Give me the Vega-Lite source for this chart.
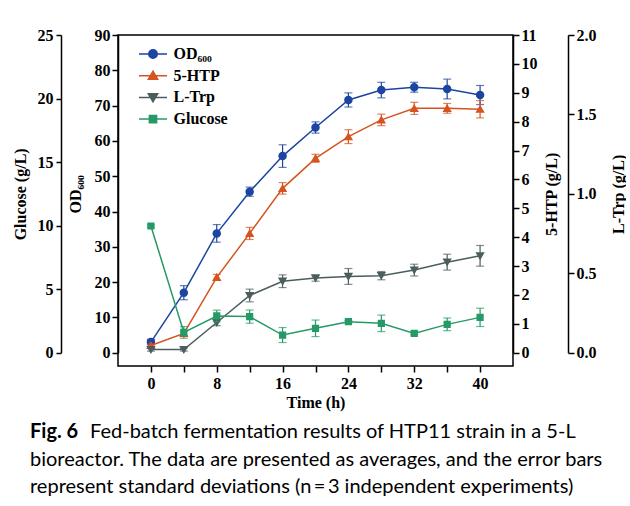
{
  "$schema": "https://vega.github.io/schema/vega-lite/v6.json",
  "width": 395,
  "height": 331,
  "padding": {"top": 27, "left": 12, "right": 0, "bottom": 0},
  "background": "white",
  "config": {
    "font": "Liberation Serif",
    "view": {"stroke": "black", "strokeWidth": 1.5},
    "axis": {
      "grid": false,
      "labelFont": "Liberation Serif",
      "labelFontWeight": "bold",
      "labelFontSize": 16,
      "labelColor": "black",
      "titleFont": "Liberation Serif",
      "titleFontWeight": "bold",
      "titleFontSize": 16,
      "titleColor": "black",
      "tickColor": "black",
      "tickWidth": 1.5,
      "tickSize": 6,
      "domainColor": "black",
      "domainWidth": 1.5,
      "labelPadding": 2
    },
    "legend": {
      "orient": "none",
      "legendX": 27,
      "legendY": 11,
      "title": null,
      "padding": 0,
      "symbolSize": 72,
      "rowPadding": 5.7,
      "labelOffset": 12.5,
      "labelFont": "Liberation Serif",
      "labelFontWeight": "bold",
      "labelFontSize": 16,
      "labelColor": "black"
    }
  },
  "title": {
    "text": "Fig. 6",
    "subtitle": [
      "\u200b\u2003\u2003\u2003\u2003Fed-batch fermentation results of HTP11 strain in a 5-L",
      "bioreactor. The data are presented as averages, and the error bars",
      "represent standard deviations (n\u2009=\u20093 independent experiments)"
    ],
    "orient": "bottom",
    "anchor": "start",
    "frame": "group",
    "dx": -88,
    "offset": 12,
    "font": "Lato",
    "fontSize": 20,
    "fontWeight": "bold",
    "color": "black",
    "subtitleFont": "Lato",
    "subtitleFontSize": 20,
    "subtitleFontWeight": "normal",
    "subtitleColor": "black",
    "subtitleLineHeight": 27.5,
    "subtitlePadding": -20
  },
  "data": {
    "values": [
      {"series": "OD600", "time": 0, "value": 3.0, "err": 0.8},
      {"series": "OD600", "time": 4, "value": 17.0, "err": 2.0},
      {"series": "OD600", "time": 8, "value": 33.8, "err": 2.5},
      {"series": "OD600", "time": 12, "value": 45.6, "err": 1.3},
      {"series": "OD600", "time": 16, "value": 55.7, "err": 3.2},
      {"series": "OD600", "time": 20, "value": 63.8, "err": 1.6},
      {"series": "OD600", "time": 24, "value": 71.6, "err": 2.0},
      {"series": "OD600", "time": 28, "value": 74.4, "err": 2.2},
      {"series": "OD600", "time": 32, "value": 75.2, "err": 1.4},
      {"series": "OD600", "time": 36, "value": 74.7, "err": 2.8},
      {"series": "OD600", "time": 40, "value": 73.0, "err": 2.7},
      {"series": "5-HTP", "time": 0, "value": 0.25, "err": 0.05},
      {"series": "5-HTP", "time": 4, "value": 0.67, "err": 0.08},
      {"series": "5-HTP", "time": 8, "value": 2.61, "err": 0.1},
      {"series": "5-HTP", "time": 12, "value": 4.13, "err": 0.21},
      {"series": "5-HTP", "time": 16, "value": 5.69, "err": 0.2},
      {"series": "5-HTP", "time": 20, "value": 6.73, "err": 0.14},
      {"series": "5-HTP", "time": 24, "value": 7.48, "err": 0.24},
      {"series": "5-HTP", "time": 28, "value": 8.06, "err": 0.2},
      {"series": "5-HTP", "time": 32, "value": 8.46, "err": 0.21},
      {"series": "5-HTP", "time": 36, "value": 8.46, "err": 0.17},
      {"series": "5-HTP", "time": 40, "value": 8.43, "err": 0.3},
      {"series": "L-Trp", "time": 0, "value": 0.02, "err": 0.01},
      {"series": "L-Trp", "time": 4, "value": 0.02, "err": 0.01},
      {"series": "L-Trp", "time": 8, "value": 0.19, "err": 0.02},
      {"series": "L-Trp", "time": 12, "value": 0.36, "err": 0.04},
      {"series": "L-Trp", "time": 16, "value": 0.45, "err": 0.04},
      {"series": "L-Trp", "time": 20, "value": 0.47, "err": 0.02},
      {"series": "L-Trp", "time": 24, "value": 0.48, "err": 0.05},
      {"series": "L-Trp", "time": 28, "value": 0.485, "err": 0.026},
      {"series": "L-Trp", "time": 32, "value": 0.52, "err": 0.037},
      {"series": "L-Trp", "time": 36, "value": 0.57, "err": 0.05},
      {"series": "L-Trp", "time": 40, "value": 0.61, "err": 0.065},
      {"series": "Glucose", "time": 0, "value": 9.97, "err": 0.1},
      {"series": "Glucose", "time": 4, "value": 1.6, "err": 0.46},
      {"series": "Glucose", "time": 8, "value": 2.89, "err": 0.46},
      {"series": "Glucose", "time": 12, "value": 2.84, "err": 0.52},
      {"series": "Glucose", "time": 16, "value": 1.39, "err": 0.59},
      {"series": "Glucose", "time": 20, "value": 1.92, "err": 0.65},
      {"series": "Glucose", "time": 24, "value": 2.44, "err": 0.1},
      {"series": "Glucose", "time": 28, "value": 2.31, "err": 0.65},
      {"series": "Glucose", "time": 32, "value": 1.52, "err": 0.1},
      {"series": "Glucose", "time": 36, "value": 2.23, "err": 0.5},
      {"series": "Glucose", "time": 40, "value": 2.78, "err": 0.72}
    ]
  },
  "encoding": {
    "x": {
      "field": "time",
      "type": "quantitative",
      "scale": {"domain": [-4, 44], "nice": false, "zero": false},
      "axis": {
        "title": "Time (h)",
        "values": [0, 4, 8, 12, 16, 20, 24, 28, 32, 36, 40],
        "labelExpr": "datum.value % 8 === 0 ? datum.label : ''",
        "domain": false,
        "labelPadding": 3,
        "titlePadding": 3
      }
    },
    "color": {
      "field": "series",
      "type": "nominal",
      "scale": {"domain": ["OD600", "5-HTP", "L-Trp", "Glucose"], "range": ["#1b45a0", "#d6531f", "#4b5d5d", "#259a66"]},
      "legend": {
        "labelExpr": "datum.label === 'OD600' ? 'OD\u2086\u2080\u2080' : datum.label",
        "encode": {"symbols": {"update": {"fill": {"scale": "color", "field": "value"}, "stroke": {"scale": "color", "field": "value"}, "strokeWidth": {"value": 1.5}, "opacity": {"value": 1}}}}
      }
    }
  },
  "layer": [
    {
      "transform": [{"filter": "datum.series === 'OD600'"}],
      "encoding": {
        "y": {
          "field": "value",
          "type": "quantitative",
          "scale": {"domain": [0, 90], "range": [317.7, 0], "nice": false, "zero": false},
          "axis": {"orient": "left", "title": "OD\u2086\u2080\u2080", "values": [0, 10, 20, 30, 40, 50, 60, 70, 80, 90], "titlePadding": 11}
        }
      },
      "layer": [
        {"mark": {"type": "line", "strokeWidth": 1.5}},
        {"mark": {"type": "errorbar", "ticks": {"size": 8}, "thickness": 1.2}, "encoding": {"yError": {"field": "err"}}},
        {
          "mark": {"type": "point", "filled": true, "opacity": 1, "strokeWidth": 0, "size": 72},
          "encoding": {
            "shape": {
              "field": "series",
              "type": "nominal",
              "scale": {
                "domain": ["OD600", "5-HTP", "L-Trp", "Glucose"],
                "range": [
                  "M1,0A1,1,0,1,1,-1,0A1,1,0,1,1,1,0Z M-3.3,0H3.3",
                  "M0,-1.05L1.1,0.85L-1.1,0.85Z M-3.3,0H3.3",
                  "M0,1.05L-1.1,-0.85L1.1,-0.85Z M-3.3,0H3.3",
                  "M-0.85,-0.85H0.85V0.85H-0.85Z M-3.3,0H3.3"
                ]
              }
            }
          }
        }
      ]
    },
    {
      "transform": [{"filter": "datum.series === '5-HTP'"}],
      "encoding": {
        "y": {
          "field": "value",
          "type": "quantitative",
          "scale": {"domain": [0, 11], "range": [317.7, 0], "nice": false, "zero": false},
          "axis": {"orient": "right", "title": "5-HTP (g/L)", "values": [0, 1, 2, 3, 4, 5, 6, 7, 8, 9, 10, 11], "titleAngle": 270, "titlePadding": 22}
        }
      },
      "layer": [
        {"mark": {"type": "line", "strokeWidth": 1.5}},
        {"mark": {"type": "errorbar", "ticks": {"size": 8}, "thickness": 1.2}, "encoding": {"yError": {"field": "err"}}},
        {"mark": {"type": "point", "filled": true, "opacity": 1, "strokeWidth": 0, "size": 72}, "encoding": {"shape": {"field": "series", "type": "nominal"}}}
      ]
    },
    {
      "transform": [{"filter": "datum.series === 'L-Trp'"}],
      "encoding": {
        "y": {
          "field": "value",
          "type": "quantitative",
          "scale": {"domain": [0, 2], "range": [317.7, 0], "nice": false, "zero": false},
          "axis": {"orient": "right", "offset": 55, "title": "L-Trp (g/L)", "values": [0, 0.5, 1, 1.5, 2], "format": ".1f", "titleAngle": 270, "titlePadding": 30}
        }
      },
      "layer": [
        {"mark": {"type": "line", "strokeWidth": 1.5}},
        {"mark": {"type": "errorbar", "ticks": {"size": 8}, "thickness": 1.2}, "encoding": {"yError": {"field": "err"}}},
        {"mark": {"type": "point", "filled": true, "opacity": 1, "strokeWidth": 0, "size": 72}, "encoding": {"shape": {"field": "series", "type": "nominal"}}}
      ]
    },
    {
      "transform": [{"filter": "datum.series === 'Glucose'"}],
      "encoding": {
        "y": {
          "field": "value",
          "type": "quantitative",
          "scale": {"domain": [0, 25], "range": [317.7, 0], "nice": false, "zero": false},
          "axis": {"orient": "left", "offset": 57, "title": "Glucose (g/L)", "values": [0, 5, 10, 15, 20, 25], "tickSize": 5, "labelPadding": 3, "titlePadding": 9}
        }
      },
      "layer": [
        {"mark": {"type": "line", "strokeWidth": 1.5}},
        {"mark": {"type": "errorbar", "ticks": {"size": 8}, "thickness": 1.2}, "encoding": {"yError": {"field": "err"}}},
        {"mark": {"type": "point", "filled": true, "opacity": 1, "strokeWidth": 0, "size": 72}, "encoding": {"shape": {"field": "series", "type": "nominal"}}}
      ]
    }
  ],
  "resolve": {"scale": {"y": "independent"}, "axis": {"y": "independent"}}
}
